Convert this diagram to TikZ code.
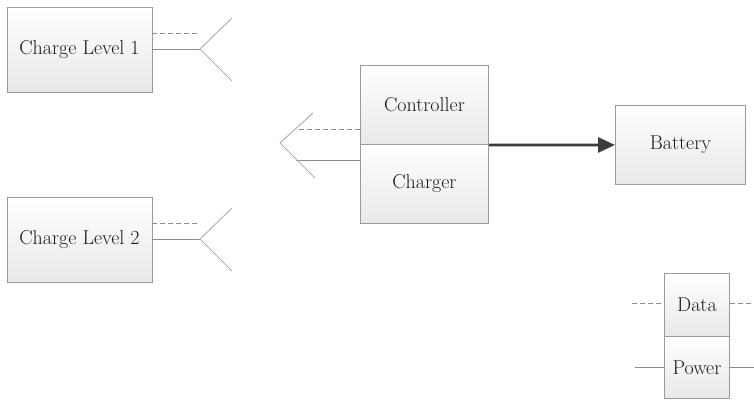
\documentclass[tikz,border=0pt]{standalone}
\usetikzlibrary{arrows.meta}
\definecolor{boxline}{HTML}{9A9A9A}
\definecolor{wire}{HTML}{8C8C8C}
\definecolor{arrowc}{HTML}{3C3C3C}
\tikzset{
  box/.style={draw=boxline, line width=0.9pt, top color=white, bottom color=black!9,
    inner sep=0pt, font=\rmfamily\fontsize{20}{24}\selectfont, text=black!90},
  dataline/.style={draw=wire, line width=0.9pt, dash pattern=on 5pt off 3pt},
  powerline/.style={draw=wire, line width=0.9pt},
  forkline/.style={draw=black!30, line width=1pt},
  flow/.style={draw=arrowc, line width=2.8pt, -{Triangle[length=17pt,width=15pt]}}
}
\begin{document}
\begin{tikzpicture}[x=1pt,y=-1pt]
\useasboundingbox (0,0) rectangle (754,400);
% Charge Level 1
\node[box, minimum width=145pt, minimum height=85pt] (cl1) at (79.5,49.5) {Charge Level 1};
\coordinate (d1) at (200,33);
\coordinate (f1) at (200,49);
\coordinate (f1u) at (232,18);
\coordinate (f1d) at (232,81);
\draw[dataline] (cl1.east |- d1) -- (d1);
\draw[powerline] (cl1.east |- f1) -- (f1);
\draw[forkline] (f1u) -- (f1) -- (f1d);
% Charge Level 2
\node[box, minimum width=145pt, minimum height=85pt] (cl2) at (79.5,239.5) {Charge Level 2};
\coordinate (d2) at (200,223);
\coordinate (f2) at (200,239);
\coordinate (f2u) at (232,208);
\coordinate (f2d) at (232,271);
\draw[dataline] (cl2.east |- d2) -- (d2);
\draw[powerline] (cl2.east |- f2) -- (f2);
\draw[forkline] (f2u) -- (f2) -- (f2d);
% Controller / Charger
\node[box, minimum width=128pt, minimum height=79pt, anchor=north west] (ctrl) at (360,65) {Controller};
\node[box, minimum width=128pt, minimum height=79pt, anchor=north west] (chg) at (360,144) {Charger};
\coordinate (fc) at (280,143);
\coordinate (fcu) at (313,113);
\coordinate (fcd) at (315,178);
\coordinate (dc) at (296,129);
\coordinate (pc) at (296,160);
\draw[dataline] (ctrl.west |- dc) -- (dc);
\draw[powerline] (chg.west |- pc) -- (pc);
\draw[forkline] (fcu) -- (fc) -- (fcd);
% Battery
\node[box, minimum width=130pt, minimum height=79pt, anchor=north west] (bat) at (615,105) {Battery};
\draw[flow] (ctrl.south east) -- (bat.west);
% Legend
\node[box, minimum width=65pt, minimum height=63pt, anchor=north west] (ldata) at (664,273) {Data};
\node[box, minimum width=65pt, minimum height=62pt, anchor=north west] (lpow) at (664,336) {Power};
\coordinate (ldl) at (632,303);
\coordinate (ldr) at (754,303);
\coordinate (lpl) at (635,367);
\coordinate (lpr) at (754,367);
\draw[dataline] (ldl) -- (ldata.west |- ldl);
\draw[dataline] (ldata.east |- ldr) -- (ldr);
\draw[powerline] (lpl) -- (lpow.west |- lpl);
\draw[powerline] (lpow.east |- lpr) -- (lpr);
\end{tikzpicture}
\end{document}
